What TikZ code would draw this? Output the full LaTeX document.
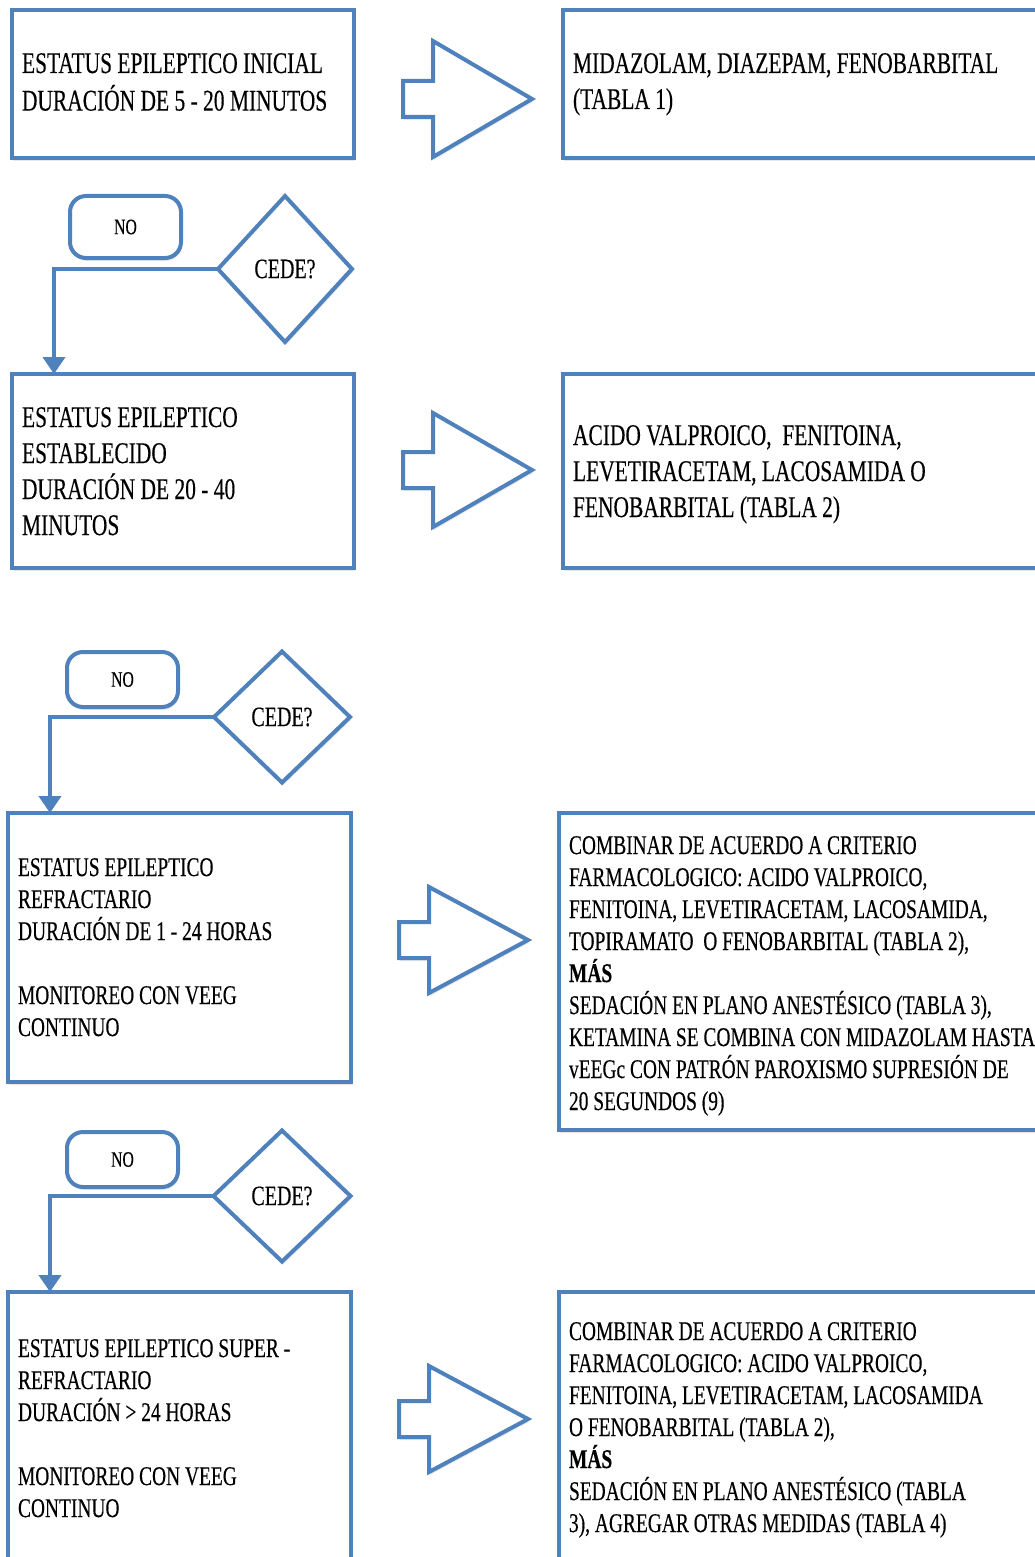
\documentclass[tikz,border=0pt]{standalone}
\usepackage{fontspec}
\usetikzlibrary{shapes.geometric,arrows.meta,shadows}
\newfontfamily\upfont{Liberation Serif}[FakeStretch=0.715,FakeBold=0.3]
\newfontfamily\lofont{Liberation Serif}[FakeStretch=0.72,FakeBold=0.3]
\definecolor{ebl}{HTML}{4F81BD}
\newcommand{\blockarrow}[4]{% x0, yc, xtip, half head
  \draw[arr] (#1,{#2-18}) -- ({#1+30},{#2-18}) -- ({#1+30},{#2-#4}) -- (#3,#2)
    -- ({#1+30},{#2+#4}) -- ({#1+30},{#2+18}) -- (#1,{#2+18}) -- cycle;}
\begin{document}
\begin{tikzpicture}[x=1pt,y=-1pt,
  shd/.style={drop shadow={shadow xshift=1pt,shadow yshift=-3pt,opacity=0.18}},
  boxs/.style={draw=ebl,line width=4pt,fill=white,outer sep=0pt,inner sep=0pt,shd,anchor=north west},
  dec/.style={diamond,draw=ebl,line width=4pt,fill=white,outer sep=0pt,inner sep=0pt,shd,
     font=\upfont\fontsize{28}{32}\selectfont},
  nobox/.style={rectangle,rounded corners=16pt,draw=ebl,line width=4pt,fill=white,outer sep=0pt,
     inner sep=0pt,shd,font=\upfont\fontsize{22}{26}\selectfont},
  arr/.style={draw=ebl,line width=4pt,fill=white,line join=miter,shd},
  conn/.style={draw=ebl,line width=4pt,-{Triangle[width=22pt,length=17pt]}},
  txtup/.style={anchor=north west,align=left,inner sep=0pt,outer sep=0pt,
     font=\upfont\fontsize{30}{36}\selectfont},
  txtlo/.style={anchor=north west,align=left,inner sep=0pt,outer sep=0pt,
     font=\lofont\fontsize{27}{32}\selectfont}]
\useasboundingbox[fill=white] (0,0) rectangle (1035,1557);

% ---- boxes
\node[boxs,minimum width=342pt,minimum height=148pt] (b1) at (12,10) {};
\node[boxs,minimum width=490pt,minimum height=148pt] (b2) at (563,10) {};
\node[boxs,minimum width=342pt,minimum height=194pt] (b3) at (12,374) {};
\node[boxs,minimum width=490pt,minimum height=194pt] (b4) at (563,374) {};
\node[boxs,minimum width=343pt,minimum height=269pt] (b5) at (8,813) {};
\node[boxs,minimum width=494pt,minimum height=317pt] (b6) at (559,813) {};
\node[boxs,minimum width=343pt,minimum height=290pt] (b7) at (8,1292) {};
\node[boxs,minimum width=494pt,minimum height=290pt] (b8) at (559,1292) {};

% ---- texts
\node[txtup] (t1) at (22,47.8) {\strut ESTATUS EPILEPTICO INICIAL\\DURACIÓN DE 5 - 20 MINUTOS};
\node[txtup] (t2) at (573,47.8) {\strut MIDAZOLAM, DIAZEPAM, FENOBARBITAL\\(TABLA 1)};
\node[txtup] (t3) at (22,401.8) {\strut ESTATUS EPILEPTICO\\ESTABLECIDO\\DURACIÓN DE 20 - 40\\MINUTOS};
\node[txtup] (t4) at (573,419.8) {\strut ACIDO VALPROICO,\ \ FENITOINA,\\LEVETIRACETAM, LACOSAMIDA O\\FENOBARBITAL (TABLA 2)};
\node[txtlo] (t5) at (18,853.6) {\strut ESTATUS EPILEPTICO\\REFRACTARIO\\DURACIÓN DE 1 - 24 HORAS\\[32pt]MONITOREO CON VEEG\\CONTINUO};
\node[txtlo] (t6) at (569,831.6) {\strut COMBINAR DE ACUERDO A CRITERIO\\FARMACOLOGICO: ACIDO VALPROICO,\\FENITOINA, LEVETIRACETAM, LACOSAMIDA,\\TOPIRAMATO\ \ O FENOBARBITAL (TABLA 2),\\\textbf{MÁS}\\SEDACIÓN EN PLANO ANESTÉSICO (TABLA 3),\\KETAMINA SE COMBINA CON MIDAZOLAM HASTA\\vEEGc CON PATRÓN PAROXISMO SUPRESIÓN DE\\20 SEGUNDOS (9)};
\node[txtlo] (t7) at (18,1334.6) {\strut ESTATUS EPILEPTICO SUPER -\\REFRACTARIO\\DURACIÓN > 24 HORAS\\[32pt]MONITOREO CON VEEG\\CONTINUO};
\node[txtlo] (t8) at (569,1317.6) {\strut COMBINAR DE ACUERDO A CRITERIO\\FARMACOLOGICO: ACIDO VALPROICO,\\FENITOINA, LEVETIRACETAM, LACOSAMIDA\\O FENOBARBITAL (TABLA 2),\\\textbf{MÁS}\\SEDACIÓN EN PLANO ANESTÉSICO (TABLA\\3), AGREGAR OTRAS MEDIDAS (TABLA 4)};

% ---- block arrows
\blockarrow{403}{99}{532}{58}
\blockarrow{403}{470}{532}{57}
\blockarrow{399}{940}{528}{53}
\blockarrow{399}{1419}{528}{53}

% ---- decisions and connectors
\node[dec,minimum width=134pt,minimum height=146pt] (d1) at (285,269) {CEDE?};
\node[dec,minimum width=136pt,minimum height=131pt] (d2) at (282,717) {CEDE?};
\node[dec,minimum width=137pt,minimum height=131pt] (d3) at (282,1196) {CEDE?};
\draw[conn] (d1.west) -| ([xshift=42pt]b3.north west);
\draw[conn] (d2.west) -| ([xshift=42pt]b5.north west);
\draw[conn] (d3.west) -| ([xshift=42pt]b7.north west);

\node[nobox,minimum width=111pt,minimum height=62pt] (n1) at (125.5,227) {NO};
\node[nobox,minimum width=111pt,minimum height=55pt] (n2) at (122.5,679.5) {NO};
\node[nobox,minimum width=111pt,minimum height=55pt] (n3) at (122.5,1159.5) {NO};
\end{tikzpicture}
\end{document}
